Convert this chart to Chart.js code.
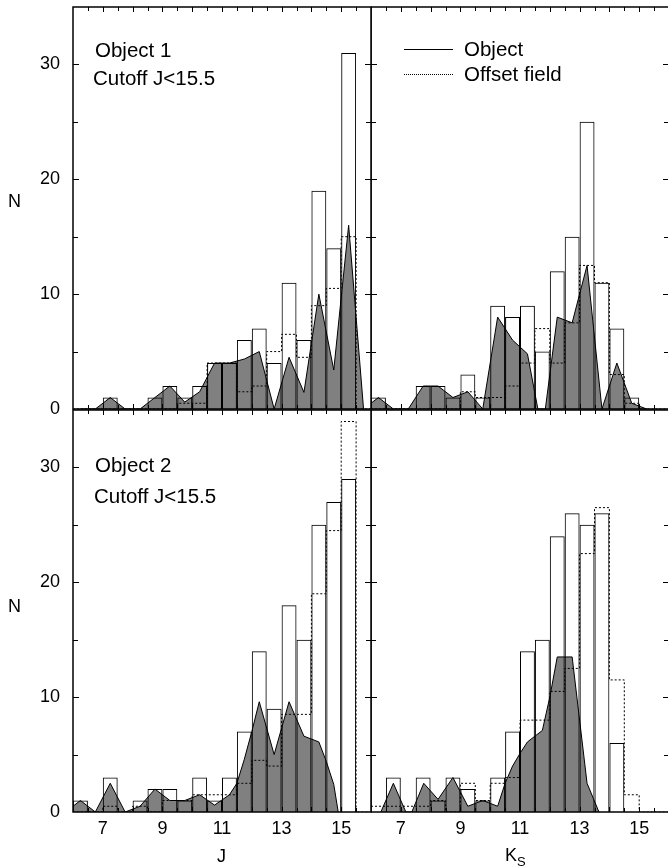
<!DOCTYPE html>
<html>
<head>
<meta charset="utf-8">
<script src="https://cdn.jsdelivr.net/npm/chart.js@4.4.0/dist/chart.umd.min.js"></script>
<style>
  html, body { margin: 0; padding: 0; background: #fff; }
  #wrap { position: relative; width: 668px; height: 867px; overflow: hidden;
          font-family: "Liberation Sans", Arial, sans-serif; color: #000; }
  canvas { position: absolute; }
  .txt { position: absolute; font-size: 20.5px; line-height: 20px; white-space: nowrap; }
  .ax { position: absolute; font-size: 18px; line-height: 18px; white-space: nowrap; }
  .ax sub { font-size: 13px; vertical-align: -5px; line-height: 0; }
  .key { position: absolute; width: 49px; height: 0; }
</style>
</head>
<body>
<div id="wrap">
  <canvas id="tl" width="372" height="424" style="left:0;top:0"></canvas>
  <canvas id="tr" width="300" height="424" style="left:371px;top:0"></canvas>
  <canvas id="bl" width="372" height="467" style="left:0;top:400px"></canvas>
  <canvas id="br" width="300" height="467" style="left:371px;top:400px"></canvas>

  <div class="txt" style="left:95px;top:40px">Object 1</div>
  <div class="txt" style="left:93px;top:68px">Cutoff J&lt;15.5</div>
  <div class="txt" style="left:95px;top:455px">Object 2</div>
  <div class="txt" style="left:94px;top:486px">Cutoff J&lt;15.5</div>

  <div class="key" style="left:404px;top:49px;border-top:1px solid #000"></div>
  <div class="txt" style="left:464px;top:39px">Object</div>
  <div class="key" style="left:404px;top:74px;border-top:1px dotted #000"></div>
  <div class="txt" style="left:464px;top:64px">Offset field</div>

  <div class="ax" style="left:8px;top:192px">N</div>
  <div class="ax" style="left:8px;top:597px">N</div>
  <div class="ax" style="left:217px;top:847px">J</div>
  <div class="ax" style="left:505px;top:846px">K<sub>S</sub></div>
</div>

<script>
// ---------- bins (0.5 mag) ----------
const binEdge = [6, 6.5, 7, 7.5, 8, 8.5, 9, 9.5, 10, 10.5, 11, 11.5, 12, 12.5, 13, 13.5, 14, 14.5, 15, 15.5, 16];
const binMid = [6.25, 6.75, 7.25, 7.75, 8.25, 8.75, 9.25, 9.75, 10.25, 10.75, 11.25, 11.75, 12.25, 12.75, 13.25, 13.75, 14.25, 14.75, 15.25, 15.75];

// ---------- axis ticks ----------
const xLabels = [7, 9, 11, 13, 15];
const yLabels = [0, 10, 20, 30];
const xTickMarks = [6.5, 7, 7.5, 8, 8.5, 9, 9.5, 10, 10.5, 11, 11.5, 12, 12.5, 13, 13.5, 14, 14.5, 15, 15.5];
const yTickMarks = [5, 10, 15, 20, 25, 30];

// ---------- Object 1, J ----------
const obj1J = [0, 0, 1, 0, 0, 1, 2, 1, 2, 4, 4, 6, 7, 4, 11, 6, 19, 14, 31, 0];
const off1J = [0, 0, 0, 0, 0, 0, 0, 0.5, 0.5, 4, 4, 1.5, 2, 5, 6.5, 4.5, 9, 10.5, 15, 0];
const crv1JX = [6.25, 6.75, 7.25, 7.75, 8.25, 8.75, 9.25, 9.75, 10.25, 10.75, 11.25, 11.75, 12.25, 12.75, 13.25, 13.75, 14.25, 14.75, 15.25, 15.75];
const crv1JY = [0, 0, 1, 0, 0, 1, 2, 0.6, 1.5, 4, 4, 4.35, 5, 0, 4.5, 1.45, 10, 3.4, 16, 0];

// ---------- Object 1, Ks ----------
const obj1K = [1, 0, 0, 2, 2, 1, 3, 1, 9, 8, 9, 5, 12, 15, 25, 11, 7, 1, 0, 0];
const off1K = [0, 0, 0, 0, 0, 0, 1.5, 1, 1, 2, 4, 7, 4, 7.5, 12.5, 11, 3, 0.5, 0, 0];
const crv1KX = [5.75, 6.25, 6.75, 7.25, 7.75, 8.25, 8.75, 9.25, 9.75, 10.25, 10.75, 11.25, 11.6, 11.85, 12.25, 12.75, 13.25, 13.75, 14.25, 14.75, 15.25];
const crv1KY = [0, 1, 0, 0, 2, 2, 1, 1.5, 0, 8, 6, 4.8, 0, 0, 8, 7.5, 12.5, 0, 4, 0.5, 0];

// ---------- Object 2, J ----------
const obj2J = [1, 0, 3, 0, 1, 2, 2, 1, 3, 1, 3, 7, 14, 9, 18, 15, 25, 27, 29, 0];
const off2J = [0, 0, 0.5, 0, 0.5, 0, 1, 1, 1.5, 1.5, 1.5, 2.5, 4.5, 4, 8.5, 8.5, 19, 24.5, 34, 0];
const crv2JX = [5.75, 6.25, 6.75, 7.25, 7.75, 8.25, 8.75, 9.25, 9.75, 10.25, 10.75, 11.25, 11.5, 11.75, 12, 12.25, 12.75, 13.25, 13.75, 14.25, 14.5, 14.75, 14.9];
const crv2JY = [0, 1, 0, 2.5, 0, 0.5, 2, 1, 1, 1.5, 0.6, 1.5, 2.5, 4.6, 7, 9.6, 5, 9.6, 6.6, 6.1, 4.4, 2.4, 0];

// ---------- Object 2, Ks ----------
const obj2K = [0, 3, 0, 3, 1, 3, 2, 1, 3, 7, 14, 15, 24, 26, 25, 26, 6, 0, 0, 0];
const off2K = [0.5, 0.5, 0.5, 0.5, 1, 0, 2.5, 1, 2.5, 3, 8, 8, 10.5, 12.5, 22.5, 26.5, 11.5, 1.5, 0, 0];
const crv2KX = [6.33, 6.75, 7.17, 7.37, 7.77, 8.25, 8.75, 9.25, 9.75, 10.25, 10.5, 10.75, 11, 11.25, 11.5, 11.75, 12, 12.25, 12.75, 13.25, 13.65];
const crv2KY = [0, 2.5, 0, 0, 2.5, 1.1, 3, 0.5, 1, 0.5, 2.5, 4, 5.1, 6.1, 6.6, 7.1, 10, 13.5, 13.5, 2.5, 0];

const tickFont = { family: '"Liberation Sans", Arial, sans-serif', size: 18 };

// frame + inward tick marks
const frameTicks = {
  id: 'frameTicks',
  afterDatasetsDraw(chart) {
    const { ctx, chartArea: a, scales: { x, y } } = chart;
    ctx.save();
    ctx.strokeStyle = '#000';
    ctx.lineWidth = 1;
    ctx.beginPath();
    xTickMarks.forEach(v => {
      const px = Math.round(x.getPixelForValue(v)) + 0.5;
      const len = Number.isInteger(v) ? 5 : 4;
      ctx.moveTo(px, a.bottom); ctx.lineTo(px, a.bottom - len);
      ctx.moveTo(px, a.top); ctx.lineTo(px, a.top + len);
    });
    yTickMarks.forEach(v => {
      const py = Math.round(y.getPixelForValue(v)) + 0.5;
      const len = v % 10 === 0 ? 6 : 5;
      ctx.moveTo(a.left, py); ctx.lineTo(a.left + len, py);
      ctx.moveTo(a.right, py); ctx.lineTo(a.right - len, py);
    });
    ctx.stroke();
    ctx.lineWidth = 1.5;
    ctx.strokeRect(a.left, a.top, a.right - a.left, a.bottom - a.top);
    ctx.restore();
  }
};

function makePanel(id, p) {
  return new Chart(document.getElementById(id), {
    type: 'line',
    data: {
      datasets: [
        {
          label: 'Offset field',
          data: binEdge.map((e, i) => ({ x: e, y: i < p.off.length ? p.off[i] : 0 })),
          stepped: 'before',
          borderColor: '#000',
          borderWidth: 1,
          borderDash: [2, 2],
          pointRadius: 0,
          fill: false
        },
        {
          type: 'bar',
          label: 'Object',
          data: binMid.map((m, i) => ({ x: m, y: p.obj[i] })),
          backgroundColor: 'rgba(0,0,0,0)',
          borderColor: '#000',
          borderWidth: 1,
          categoryPercentage: 1,
          barPercentage: 1,
          inflateAmount: 0
        },
        {
          label: 'curve',
          data: p.cx.map((v, i) => ({ x: v, y: p.cy[i] })),
          borderColor: '#000',
          borderWidth: 1,
          backgroundColor: '#808080',
          fill: 'origin',
          pointRadius: 0,
          tension: 0
        }
      ]
    },
    options: {
      responsive: false,
      animation: false,
      devicePixelRatio: 1,
      events: [],
      layout: { padding: p.pad },
      plugins: { legend: { display: false }, tooltip: { enabled: false } },
      scales: {
        x: {
          type: 'linear', min: 6, max: 16, offset: false, display: p.showX,
          afterBuildTicks: s => { s.ticks = xLabels.map(v => ({ value: v })); },
          afterFit: s => { if (p.showX) { s.height = 55; s.paddingLeft = 0; s.paddingRight = 0; } },
          grid: { display: false, drawTicks: false },
          border: { display: false },
          ticks: { font: tickFont, color: '#000', padding: 6, maxRotation: 0, autoSkip: false }
        },
        y: {
          type: 'linear', min: 0, max: 35, display: p.showY,
          afterBuildTicks: s => { s.ticks = yLabels.map(v => ({ value: v })); },
          afterFit: s => { if (p.showY) { s.width = 73; s.paddingTop = 0; s.paddingBottom = 0; } },
          grid: { display: false, drawTicks: false },
          border: { display: false },
          ticks: { font: tickFont, color: '#000', padding: 13 }
        }
      }
    },
    plugins: [frameTicks]
  });
}

makePanel('tl', { obj: obj1J, off: off1J, cx: crv1JX, cy: crv1JY, showX: false, showY: true,
  pad: { top: 7, left: 0, right: 1, bottom: 15 } });
makePanel('tr', { obj: obj1K, off: off1K, cx: crv1KX, cy: crv1KY, showX: false, showY: false,
  pad: { top: 7, left: 0, right: 2, bottom: 15 } });
makePanel('bl', { obj: obj2J, off: off2J, cx: crv2JX, cy: crv2JY, showX: true, showY: true,
  pad: { top: 10, left: 0, right: 1, bottom: 0 } });
makePanel('br', { obj: obj2K, off: off2K, cx: crv2KX, cy: crv2KY, showX: true, showY: false,
  pad: { top: 10, left: 0, right: 2, bottom: 0 } });
</script>
</body>
</html>
